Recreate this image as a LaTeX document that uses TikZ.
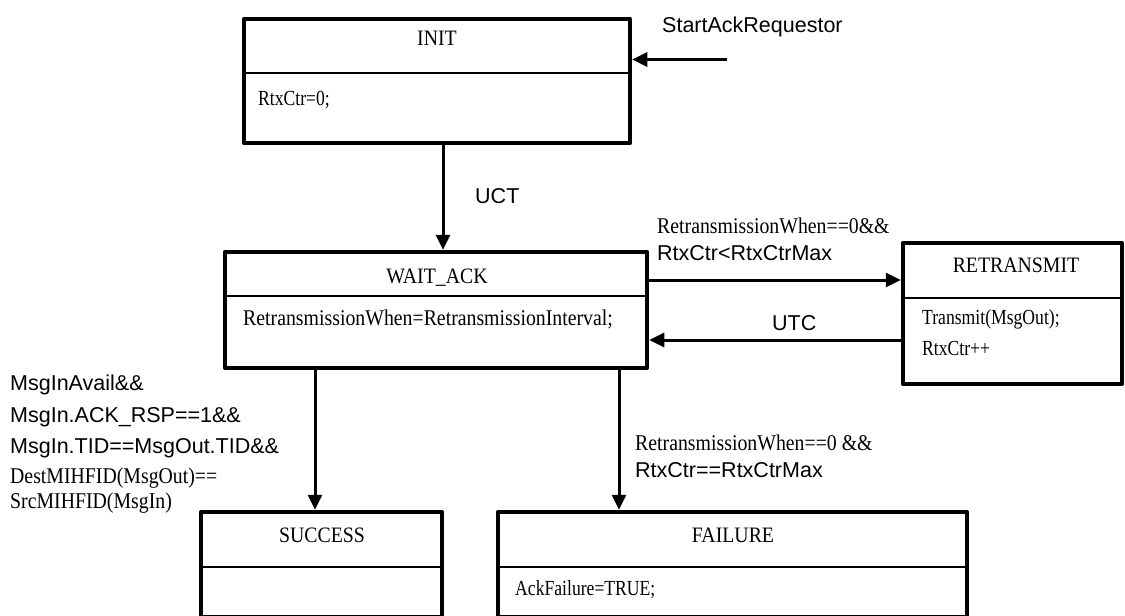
\documentclass[tikz,border=0pt]{standalone}
\usepackage{fontspec}
\setmainfont{Liberation Serif}
\newfontfamily\condserif[FakeStretch=0.88]{Liberation Serif}
\newfontfamily\narrowserif[FakeStretch=0.82]{Liberation Serif}
\newfontfamily\titleserif[FakeStretch=0.9]{Liberation Serif}
\newfontfamily\labelsans{Liberation Sans}
\usetikzlibrary{arrows.meta}

\tikzset{
  statebox/.style={draw, rectangle, line width=4.5pt, line join=round, inner sep=0pt},
  divider/.style={line width=2.5pt},
  flow/.style={line width=3pt, -{Triangle[length=15pt,width=14pt]}},
  titletext/.style={font=\titleserif\fontsize{22}{26}\selectfont, inner sep=0pt, anchor=base},
  bodytext/.style={font=\narrowserif\fontsize{21.5}{26}\selectfont, inner sep=0pt, anchor=base west},
  bigbody/.style={font=\condserif\fontsize{22.5}{26}\selectfont, inner sep=0pt, anchor=base west},
  serlabel/.style={font=\condserif\fontsize{22.5}{26}\selectfont, inner sep=0pt, anchor=base west},
  sanlabel/.style={font=\labelsans\fontsize{21.5}{26}\selectfont, inner sep=0pt, anchor=base west},
}

\begin{document}
\begin{tikzpicture}[x=1pt,y=-1pt]
\useasboundingbox (0,0) rectangle (1125,616);

% state boxes
\node[statebox, minimum width=386pt, minimum height=124pt] (init)  at (437,81) {};
\node[statebox, minimum width=422pt, minimum height=116pt] (wait)  at (436,310) {};
\node[statebox, minimum width=219pt, minimum height=141pt] (retx)  at (1012.5,313.5) {};
\node[statebox, minimum width=241pt, minimum height=105pt] (succ)  at (321.5,564.5) {};
\node[statebox, minimum width=469pt, minimum height=105pt] (fail)  at (732.5,564.5) {};

% compartment lines
\draw[divider] (init.west |- 0,73)  -- (init.east |- 0,73);
\draw[divider] (wait.west |- 0,296) -- (wait.east |- 0,296);
\draw[divider] (retx.west |- 0,298) -- (retx.east |- 0,298);
\draw[divider] (succ.west |- 0,567) -- (succ.east |- 0,567);
\draw[divider] (fail.west |- 0,567) -- (fail.east |- 0,567);

% state names
\node[titletext] (initname) at (437,45)    {INIT};
\node[titletext] (waitname) at (437,283)   {WAIT\_ACK};
\node[titletext] (retxname) at (1016,272)  {RETRANSMIT};
\node[titletext] (succname) at (322,542)   {SUCCESS};
\node[titletext] (failname) at (733,542)   {FAILURE};

% state actions
\node[bodytext] (initact)  at (258,105) {RtxCtr=0;};
\node[bigbody]  (waitact)  at (243,325) {RetransmissionWhen=RetransmissionInterval;};
\node[bodytext] (retxact1) at (922,324) {Transmit(MsgOut);};
\node[bodytext] (retxact2) at (922,355) {RtxCtr++};
\node[bodytext] (failact)  at (515,595) {AckFailure=TRUE;};

% transitions
\coordinate (start) at (727,59.5);
\draw[flow] (start) -- (start -| init.east);
\draw[flow] ([xshift=6pt]init.south) -- ([xshift=6pt]init.south |- wait.north);
\draw[flow] ([yshift=30pt]wait.east) -- ([yshift=30pt]wait.east -| retx.west);
\draw[flow] ([yshift=-30pt]wait.east -| retx.west) -- ([yshift=-30pt]wait.east);
\draw[flow] ([xshift=-121pt]wait.south) -- ([xshift=-121pt]wait.south |- succ.north);
\draw[flow] ([xshift=183pt]wait.south) -- ([xshift=183pt]wait.south |- fail.north);

% transition labels
\node[sanlabel] (lstart) at (662,32)  {StartAckRequestor};
\node[sanlabel] (luct)   at (475,203) {UCT};
\node[serlabel] (lre1)   at (657,233) {RetransmissionWhen==0\&\&};
\node[sanlabel] (lre2)   at (657,260) {RtxCtr<RtxCtrMax};
\node[sanlabel] (lutc)   at (772,330) {UTC};
\node[sanlabel] (lok1)   at (10,390)  {MsgInAvail\&\&};
\node[sanlabel] (lok2)   at (10,422)  {MsgIn.ACK\_RSP==1\&\&};
\node[sanlabel] (lok3)   at (10,453)  {MsgIn.TID==MsgOut.TID\&\&};
\node[serlabel] (lok4)   at (10,483)  {DestMIHFID(MsgOut)==};
\node[serlabel] (lok5)   at (10,508)  {SrcMIHFID(MsgIn)};
\node[serlabel] (lfail1) at (635,450) {RetransmissionWhen==0 \&\&};
\node[sanlabel] (lfail2) at (635,477) {RtxCtr==RtxCtrMax};
\end{tikzpicture}
\end{document}
